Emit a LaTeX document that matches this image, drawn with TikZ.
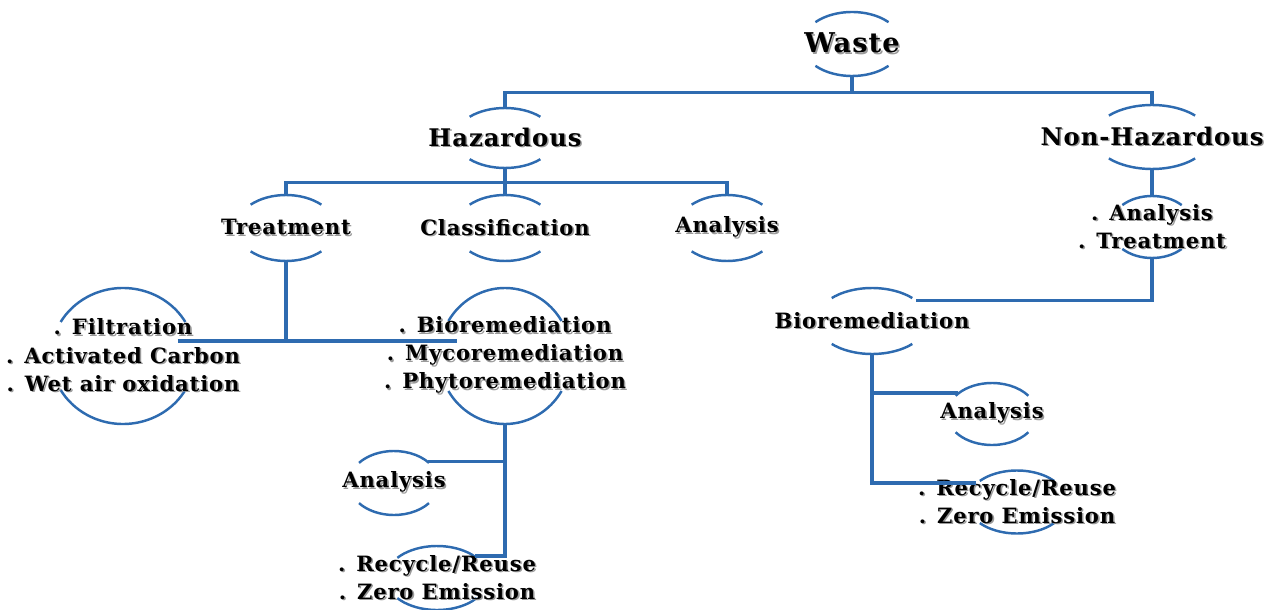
\documentclass[tikz,border=0pt]{standalone}
\usepackage{fontspec}
\setmainfont{DejaVu Serif}
\newfontfamily\boxfont{DejaVu Serif}[LetterSpace=4]
\usepackage{xcolor}
\definecolor{wireblue}{HTML}{2E6BB0}
\definecolor{shadowgray}{HTML}{9A9A9A}
\usepackage{tikz}
\usetikzlibrary{shapes.geometric, calc, backgrounds}

% soft shadow under a line of text
\newcommand{\shd}[1]{\leavevmode\rlap{\kern0.9pt\raisebox{-0.9pt}{\textcolor{shadowgray}{#1}}}#1}

% hoop: arc above and arc below a text node (name, x radius, y radius, angle)
\newcommand{\hoop}[4]{%
  \node[hoopbox, minimum width=#2*0.4mm, minimum height=#3*0.4mm] (#1h) at (#1) {};
  \begin{pgfonlayer}{background}
  \draw[arcline] ($(#1)+(#4:#2 and #3)$) arc[start angle=#4, end angle=180-#4, x radius=#2, y radius=#3];
  \draw[arcline] ($(#1)+(-#4:#2 and #3)$) arc[start angle=-#4, end angle=#4-180, x radius=#2, y radius=#3];
  \end{pgfonlayer}
}

\begin{document}
\begin{tikzpicture}[
    x=0.2mm, y=0.2mm,
    font=\boxfont\bfseries,
    wire/.style={draw=wireblue, line width=1.9pt},
    arcline/.style={draw=wireblue, line width=1.4pt},
    hoopbox/.style={ellipse, draw=none, inner sep=0pt},
    top/.style={font=\boxfont\bfseries\fontsize{15.5}{19}\selectfont},
    head/.style={font=\boxfont\bfseries\fontsize{13.8}{17}\selectfont},
    item/.style={font=\boxfont\bfseries\fontsize{12}{16}\selectfont, align=center}
]
\useasboundingbox (0,0) rectangle (1277,-610);

% ── Root and first level ──
\node[top] (waste) at (852,-44) {\shd{Waste}};
\node[head] (haz) at (505,-138) {\shd{Hazardous}};
\node[head] (nonhaz) at (1152,-137) {\shd{Non-Hazardous}};

% ── Hazardous branch ──
\node[item] (treat) at (286,-228) {\shd{Treatment}};
\node[item] (classif) at (505,-228) {\shd{Classification}};
\node[item] (anal) at (727,-228) {\shd{Analysis}};
\node[item] (filt) at (123,-356) {\shd{. Filtration}\\\shd{. Activated Carbon}\\\shd{. Wet air oxidation}};
\node[item] (bioL) at (505,-356) {\shd{. Bioremediation}\\\shd{. Mycoremediation}\\\shd{. Phytoremediation}};
\node[item] (analL) at (394,-483) {\shd{Analysis}};
\node[item] (reuseL) at (437,-578) {\shd{. Recycle/Reuse}\\\shd{. Zero Emission}};

% ── Non-Hazardous branch ──
\node[item] (nhsteps) at (1152,-227) {\shd{. Analysis}\\\shd{. Treatment}};
\node[item] (bioR) at (872,-321) {\shd{Bioremediation}};
\node[item] (analR) at (992,-414) {\shd{Analysis}};
\node[item] (reuseR) at (1017,-502) {\shd{. Recycle/Reuse}\\\shd{. Zero Emission}};

% ── Hoops ──
\hoop{waste}{50}{32}{43}
\hoop{haz}{50}{30}{45}
\hoop{nonhaz}{58}{32}{42}
\hoop{treat}{50}{33}{45}
\hoop{classif}{50}{33}{45}
\hoop{anal}{50}{33}{45}
\hoop{filt}{72}{68}{30}
\hoop{bioL}{66}{68}{31}
\hoop{analL}{45}{32}{39}
\hoop{reuseL}{51}{32}{39}
\hoop{nhsteps}{42}{31}{45}
\hoop{bioR}{56}{33}{44}
\hoop{analR}{45}{31}{36}
\hoop{reuseR}{50}{31.5}{42}

% ── Wires ──
\draw[wire] (wasteh.south) -- ++(0,-16) coordinate (wastefork);
\draw[wire] (hazh.north) |- (wastefork) -| (nonhazh.north);
\draw[wire] (hazh.south) -- (classifh.north);
\draw[wire] (treath.north) |- ($(hazh.south)!.55!(classifh.north)$) -| (analh.north);
\draw[wire] (treath.south) -- (treath.south |- filth.12);
\draw[wire] ($(filth.12)+(-16,0)$) -- ($(bioLh.west |- filth.12)+(18,0)$);
\draw[wire] (bioLh.south) |- (analLh.33);
\draw[wire] (bioLh.south) |- (reuseLh.30);
\draw[wire] (nonhazh.south) -- (nhstepsh.north);
\draw[wire] (nhstepsh.south) |- (bioRh.25);
\draw[wire] (bioRh.south) |- (analRh.148);
\draw[wire] (bioRh.south) |- (reuseRh.155);
\end{tikzpicture}
\end{document}
